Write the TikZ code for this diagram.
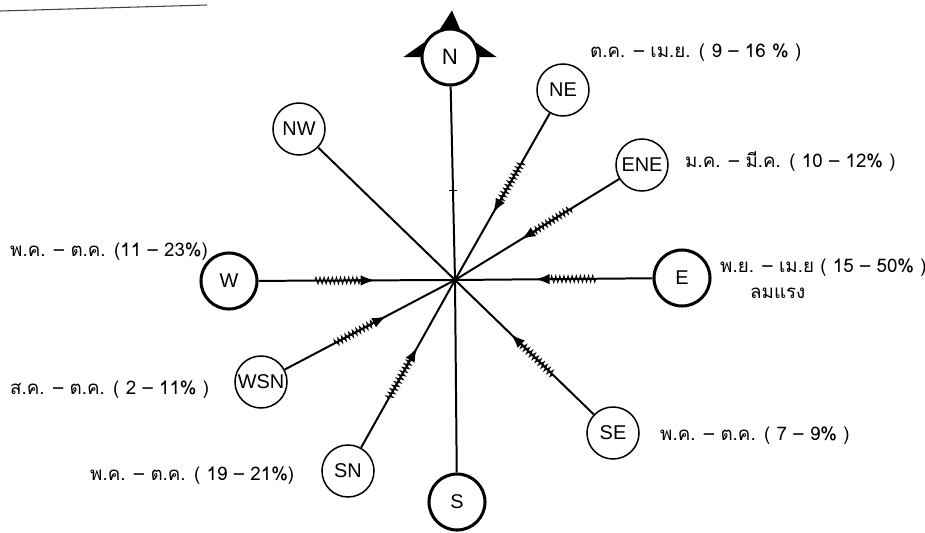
\documentclass[tikz,border=0pt]{standalone}
\usepackage{fontspec}
\setmainfont{Liberation Sans}
\newfontfamily\thaifont[Script=Thai]{Loma}
\usetikzlibrary{arrows.meta,calc,decorations.pathmorphing}
\tikzset{
  dir/.style={
    draw,
    circle,
    line width=1.3pt,
    minimum size=1.56cm,
    inner sep=0pt,
    fill=white,
    font=\fontsize{17}{17}\selectfont
  },
  maindir/.style={dir, line width=2.6pt, minimum size=1.68cm},
  spoke/.style={line width=1.7pt},
  wave/.style={line width=0.7pt, decorate,
    decoration={zigzag, amplitude=3pt, segment length=3.5pt}},
  windarrow/.style={line width=1.7pt, -{Latex[length=12pt,width=9pt]}},
  month/.style={anchor=west, inner sep=0pt, font=\thaifont\fontsize{16}{19}\selectfont}
}

\begin{document}
\begin{tikzpicture}[x=0.03cm, y=-0.03cm]
  \useasboundingbox (0,0) rectangle (925,533);
  \draw[line width=0.9pt, black!75] (0,11) -- (207,5);
  \coordinate (c) at (455,280);
  % direction circles
  \node[maindir, font=\fontsize{19}{19}\selectfont] (n) at (450,57) {N};
  \node[dir] (ne) at (563,90) {NE};
  \node[dir] (nw) at (299,129) {NW};
  \node[dir] (ene) at (642,165) {ENE};
  \node[maindir] (e) at (682,278) {E};
  \node[maindir] (w) at (229,281) {W};
  \node[dir] (wsn) at (261,382) {WSN};
  \node[dir] (sn) at (348,471) {SN};
  \node[maindir] (s) at (457,502) {S};
  \node[dir] (se) at (613,433) {SE};
  % compass marks on N
  \fill ($(n.west)+(-17,0)$) -- (n.150) -- (n.180) -- cycle;
  \fill ($(n.east)+(17,0)$) -- (n.30) -- (n.0) -- cycle;
  \fill ($(n.north)+(2,-17)$) -- (n.70) -- (n.110) -- cycle;
  % spokes
  \foreach \spk in {n,ne,ene,e,se,s,sn,wsn,w,nw}
    \draw[spoke] (\spk) -- (c);
  \draw[line width=0.9pt] ($(n)!0.6!(c)+(-4,0)$) -- ($(n)!0.6!(c)+(4,0)$);
  % winds
  \foreach \spk in {ne,ene,e,w,wsn,sn,se}{
    \draw[wave] ($(\spk)!0.38!(c)$) -- ($(\spk)!0.58!(c)$);
    \draw[windarrow] ($(\spk)!0.55!(c)$) -- ($(\spk)!0.645!(c)$);
  }
  % months
  \node[month] (lne) at (590,53) {ต.ค. – เม.ย. ( 9 – 16 \% )};
  \node[month] (lene) at (685,162) {ม.ค. – มี.ค. ( 10 – 12\% )};
  \node[month] (lw) at (10,252) {พ.ค. – ต.ค. (11 – 23\%)};
  \node[month] (le) at (720,268) {พ.ย. – เม.ย ( 15 – 50\% )};
  \node[month] (lestrong) at (750,293) {ลมแรง};
  \node[month] (lwsn) at (10,390) {ส.ค. – ต.ค. ( 2 – 11\% )};
  \node[month] (lse) at (660,436) {พ.ค. – ต.ค. ( 7 – 9\% )};
  \node[month] (lsn) at (90,476) {พ.ค. – ต.ค. ( 19 – 21\%)};
\end{tikzpicture}
\end{document}
